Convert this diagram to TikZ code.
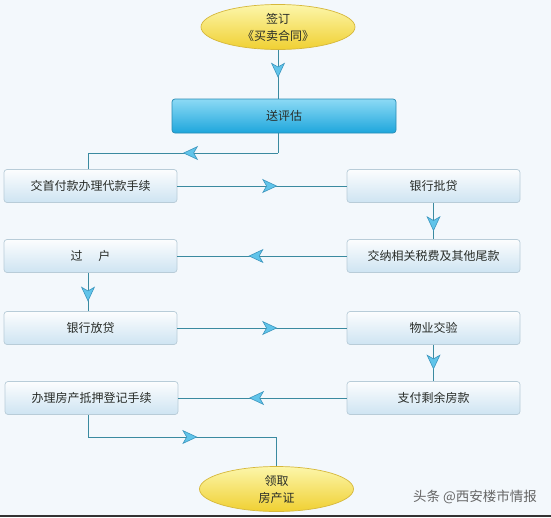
\documentclass[tikz,border=0pt]{standalone}
\usepackage{fontspec}
\newfontfamily\cjk{Noto Sans CJK SC}
\usetikzlibrary{shapes.geometric, decorations.markings, arrows.meta, calc}

\begin{document}
\begin{tikzpicture}[x=1pt, y=-1pt,
    box/.style={draw=boxline, line width=0.7pt, rounded corners=3pt,
        top color=boxtop, bottom color=boxbot, minimum width=173pt,
        minimum height=33pt, inner sep=0pt, text=ink,
        font=\cjk\fontsize{12}{14}\selectfont},
    hotbox/.style={box, draw=hotline, top color=hottop, bottom color=hotbot,
        minimum width=224pt, minimum height=34pt},
    oval/.style={ellipse, draw=ovalline, line width=0.7pt, top color=ovaltop,
        bottom color=ovalbot, minimum width=154pt, minimum height=45pt,
        inner sep=0pt, align=center, text=ink,
        font=\cjk\fontsize{12}{17}\selectfont},
    link/.style={draw=linkc, line width=0.9pt},
    flow/.style={link, postaction={decorate}, decoration={markings,
        mark=at position #1 with {\arrow{Stealth[length=15pt, width=14pt,
        inset=4pt, fill=arrowfill, color=arrowline, line width=0.6pt]}}}},
    flow/.default=0.58]

% Colours
\definecolor{bg}{RGB}{243,248,252}
\definecolor{ink}{RGB}{40,44,40}
\definecolor{boxline}{RGB}{184,204,216}
\definecolor{boxtop}{RGB}{252,253,254}
\definecolor{boxbot}{RGB}{206,228,242}
\definecolor{hotline}{RGB}{40,140,180}
\definecolor{hottop}{RGB}{140,218,245}
\definecolor{hotbot}{RGB}{30,166,220}
\definecolor{ovalline}{RGB}{214,184,60}
\definecolor{ovaltop}{RGB}{252,246,170}
\definecolor{ovalbot}{RGB}{240,208,50}
\definecolor{linkc}{RGB}{58,138,160}
\definecolor{arrowfill}{RGB}{96,196,234}
\definecolor{arrowline}{RGB}{60,150,190}

% Background
\fill[bg] (0,0) rectangle (551,517);
\useasboundingbox (0,0) rectangle (551,517);

% Start, valuation
\node[oval] (sign) at (278,27) {签订\\《买卖合同》};
\node[hotbox] (pg) at (284,116) {送评估};

% Two columns of steps
\node[box] (b1) at (90.5,186) {交首付款办理代款手续};
\node[box] (b2) at (433.5,186) {银行批贷};
\node[box] (b3) at (90.5,256) {过\hspace{1.3em}户};
\node[box] (b4) at (433.5,256) {交纳相关税费及其他尾款};
\node[box] (b5) at (90.5,328) {银行放贷};
\node[box] (b6) at (433.5,328) {物业交验};
\node[box] (b7) at (91.5,398) {办理房产抵押登记手续};
\node[box] (b8) at (433.5,398) {支付剩余房款};

% End
\node[oval] (get) at (276.5,489) {领取\\房产证};

% Bends
\coordinate (c1) at (278,153);
\coordinate (c2) at (88,153);
\coordinate (c3) at (88,437);
\coordinate (c4) at (276.5,437);

% Connectors
\draw[flow=0.57] (sign.south) -- (sign.south |- pg.north);
\draw[link] (sign.south |- pg.south) -- (c1);
\draw[flow=0.5] (c1) -- (c2);
\draw[link] (c2) -- (c2 |- b1.north);
\draw[flow=0.59] (b1.east) -- (b2.west);
\draw[flow=0.78] (b2.south) -- (b4.north);
\draw[flow] (b4.west) -- (b3.east);
\draw[flow=0.75] (b3.south -| c2) -- (b5.north -| c2);
\draw[flow=0.59] (b5.east) -- (b6.west);
\draw[flow=0.68] (b6.south) -- (b8.north);
\draw[flow] (b8.west) -- (b7.east);
\draw[link] (b7.south -| c3) -- (c3);
\draw[flow] (c3) -- (c4);
\draw[link] (c4) -- (get.north);

% Watermark and lower edge
\node[text=black!60, font=\cjk\fontsize{13.5}{15}\selectfont] (mark) at (475,497) {头条 @西安楼市情报};
\fill[black!80] (0,515) rectangle (551,517);

\end{tikzpicture}
\end{document}
